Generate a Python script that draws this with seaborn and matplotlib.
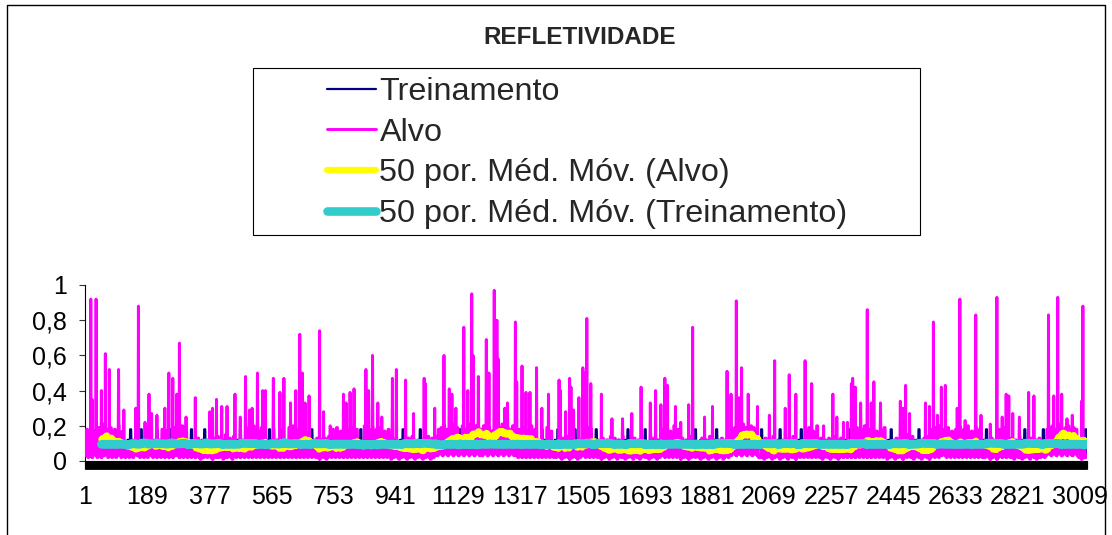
import numpy as np
import pandas as pd
import matplotlib
matplotlib.use("Agg")
import matplotlib.pyplot as plt
import seaborn as sns
from matplotlib.lines import Line2D
from matplotlib.patches import Rectangle

# ---- data -------------------------------------------------------------
N_AMOSTRAS = 3030
BLOCO = 4          # each stored level spans 4 consecutive samples
JANELA_MM = 50     # moving-average period

# Alvo (target) reflectivity, hundredths, one level per block of samples
alvo_blocos = [
    3, 18, 2, 3, 20, 2, 4, 17, 3, 2, 19, 3, 2, 21, 3, 4, 18, 2, 3, 19,
    2, 3, 18, 2, 3, 20, 4, 2, 17, 3, 2, 11, 3, 2, 10, 3, 2, 11, 4, 3,
    11, 2, 3, 10, 2, 3, 19, 2, 4, 20, 3, 2, 11, 3, 2, 10, 3, 2, 18, 3,
    2, 17, 3, 2, 10, 3, 2, 19, 3, 4, 18, 2, 3, 20, 2, 3, 17, 2, 3, 11,
    2, 3, 10, 2, 3, 13, 2, 1, 10, 2, 3, 10, 2, 3, 14, 2, 1, 13, 3, 2,
    14, 2, 3, 12, 1, 2, 15, 2, 3, 13, 2, 1, 14, 3, 2, 10, 3, 2, 11, 3,
    2, 19, 3, 2, 18, 4, 2, 20, 3, 2, 17, 3, 2, 19, 3, 2, 12, 3, 2, 10,
    3, 2, 18, 3, 2, 12, 3, 2, 10, 3, 2, 11, 3, 2, 19, 3, 2, 20, 3, 2,
    18, 3, 2, 19, 3, 2, 17, 3, 2, 11, 3, 2, 10, 3, 2, 13, 2, 1, 12, 3,
    2, 13, 1, 2, 14, 3, 2, 18, 3, 2, 19, 3, 2, 17, 4, 2, 20, 3, 2, 18,
    3, 2, 19, 3, 2, 18, 3, 2, 10, 3, 2, 20, 3, 2, 18, 4, 2, 19, 3, 2,
    18, 3, 2, 19, 3, 2, 17, 3, 2, 18, 3, 1, 13, 2, 3, 12, 2, 1, 10, 2,
    3, 10, 2, 1, 13, 2, 3, 14, 2, 1, 11, 2, 3, 10, 2, 1, 13, 2, 3, 14,
    2, 1, 13, 2, 3, 14, 3, 18, 4, 19, 3, 20, 4, 18, 3, 19, 4, 21, 3, 18,
    4, 19, 3, 10, 4, 20, 3, 18, 4, 19, 3, 21, 4, 18, 3, 20, 4, 19, 3, 18,
    3, 20, 4, 18, 3, 19, 4, 17, 3, 20, 4, 18, 3, 19, 4, 21, 3, 18, 4, 19,
    3, 18, 4, 20, 3, 19, 3, 2, 18, 3, 2, 19, 3, 2, 17, 4, 2, 20, 3, 2,
    18, 3, 2, 12, 3, 2, 11, 3, 2, 19, 3, 2, 17, 3, 2, 10, 2, 3, 10, 2,
    1, 13, 2, 3, 14, 2, 1, 10, 2, 3, 10, 2, 1, 12, 2, 3, 18, 3, 2, 19,
    3, 2, 18, 3, 2, 10, 3, 2, 11, 3, 1, 13, 2, 3, 12, 2, 1, 14, 2, 3,
    13, 2, 1, 12, 3, 2, 14, 2, 1, 10, 2, 3, 10, 2, 1, 13, 3, 2, 12, 1,
    2, 10, 3, 2, 10, 2, 1, 14, 2, 3, 13, 2, 1, 12, 2, 3, 18, 3, 2, 19,
    3, 2, 17, 3, 2, 20, 4, 2, 18, 3, 1, 13, 2, 3, 12, 2, 1, 14, 2, 3,
    10, 2, 3, 10, 2, 1, 13, 2, 3, 12, 2, 1, 14, 2, 3, 10, 2, 1, 10, 2,
    3, 13, 1, 2, 12, 3, 2, 14, 3, 18, 4, 19, 3, 20, 4, 18, 3, 21, 4, 19,
    3, 18, 4, 20, 3, 19, 4, 18, 3, 2, 2, 10, 2, 1, 13, 2, 3, 12, 2, 1,
    14, 2, 3, 10, 2, 1, 10, 2, 3, 13, 2, 1, 12, 3, 2, 14, 2, 1, 10, 3,
    2, 10, 3, 2, 18, 3, 2, 19, 4, 2, 17, 3, 2, 20, 3, 2, 13, 1, 2, 12,
    3, 2, 13, 1, 2, 14, 3, 2, 12, 1, 2, 13, 3, 2, 10, 3, 2, 10, 3, 2,
    17, 3, 2, 19, 3, 2, 18, 4, 2, 20, 3, 2, 18, 3, 2, 19, 3, 2, 17, 4,
    2, 18, 3, 2, 19, 3, 1, 10, 2, 3, 10, 2, 1, 13, 2, 3, 14, 2, 1, 12,
    3, 2, 15, 3, 2, 14, 1, 2, 10, 3, 2, 10, 1, 2, 13, 3, 2, 14, 1, 2,
    18, 3, 2, 19, 3, 2, 20, 3, 4, 18, 3, 2, 19, 3, 2, 17, 4, 2, 18, 3,
    2, 19, 3, 2, 18, 3, 2, 20, 3, 2, 17, 4, 2, 19, 3, 2, 18, 3, 2, 11,
    2, 3, 10, 2, 1, 13, 2, 3, 12, 1, 2, 18, 3, 2, 19, 3, 2, 17, 3, 2,
    13, 2, 1, 12, 3, 2, 14, 2, 1, 10, 2, 3, 10, 2, 1, 13, 3, 2, 12, 1,
    2, 13, 2, 3, 10, 2, 3, 18, 4, 19, 3, 20, 4, 18, 3, 19, 4, 21, 3, 18,
    4, 19, 3, 20, 4, 18, 3, 19, 4, 18, 3, 2, 13, 1, 2, 12, 2, 3,
]

# Treinamento (training) reflectivity, hundredths, same block layout
trein_blocos = [
    8, 11, 7, 12, 8, 12, 7, 11, 8, 11, 7, 12, 8, 11, 7, 12, 8, 12, 7, 11,
    8, 11, 7, 12, 8, 12, 7, 11, 8, 11, 7, 8, 12, 7, 18, 7, 12, 8, 7, 8,
    12, 7, 18, 7, 12, 8, 8, 12, 7, 11, 8, 8, 12, 7, 18, 7, 12, 8, 8, 11,
    7, 8, 12, 7, 18, 7, 12, 8, 8, 12, 7, 11, 8, 12, 7, 11, 8, 8, 12, 7,
    18, 7, 12, 8, 8, 11, 7, 8, 12, 7, 18, 7, 12, 8, 8, 12, 7, 11, 8, 12,
    7, 11, 8, 12, 7, 12, 8, 11, 7, 12, 8, 11, 7, 12, 8, 12, 7, 18, 7, 12,
    8, 8, 12, 7, 11, 8, 12, 7, 11, 8, 12, 7, 11, 8, 11, 7, 8, 12, 7, 18,
    7, 12, 8, 8, 12, 7, 8, 12, 7, 18, 7, 12, 8, 8, 11, 7, 12, 8, 12, 7,
    11, 8, 12, 7, 11, 8, 12, 7, 8, 12, 7, 18, 7, 12, 8, 8, 11, 7, 12, 8,
    11, 7, 12, 8, 11, 7, 12, 8, 12, 7, 11, 8, 12, 7, 11, 8, 12, 7, 11, 8,
    12, 7, 11, 8, 12, 7, 11, 4, 18, 4, 8, 12, 7, 11, 8, 12, 7, 11, 8, 12,
    7, 11, 8, 12, 7, 11, 8, 12, 7, 11, 8, 12, 7, 11, 8, 12, 7, 8, 12, 7,
    18, 7, 12, 8, 8, 11, 7, 12, 8, 12, 8, 12, 7, 18, 7, 12, 8, 8, 11, 7,
    8, 11, 7, 12, 8, 12, 7, 11, 8, 11, 7, 12, 8, 11, 7, 12, 8, 12, 7, 11,
    8, 11, 4, 18, 4, 11, 8, 12, 7, 11, 8, 12, 7, 11, 8, 12, 7, 11, 8, 12,
    8, 11, 7, 12, 8, 12, 7, 11, 8, 11, 7, 12, 8, 11, 7, 12, 8, 12, 7, 11,
    8, 11, 7, 12, 8, 12, 7, 11, 8, 11, 7, 12, 8, 11, 7, 12, 8, 12, 7, 11,
    8, 12, 7, 11, 4, 18, 4, 12, 7, 11, 8, 12, 7, 11, 8, 12, 4, 18, 4, 11,
    8, 12, 7, 11, 8, 12, 7, 8, 12, 7, 18, 7, 12, 8, 8, 11, 7, 12, 8, 12,
    7, 11, 8, 8, 12, 7, 18, 7, 12, 8, 8, 12, 7, 11, 8, 12, 7, 11, 8, 12,
    7, 11, 8, 12, 7, 11, 8, 8, 12, 7, 18, 7, 12, 8, 8, 12, 7, 11, 8, 12,
    7, 11, 4, 18, 4, 11, 8, 12, 7, 11, 8, 12, 7, 11, 8, 12, 7, 11, 8, 12,
    8, 11, 7, 12, 8, 12, 7, 11, 8, 11, 7, 12, 8, 11, 7, 12, 8, 12, 7, 11,
    4, 18, 4, 11, 8, 12, 7, 11, 8, 12, 7, 11, 8, 12, 8, 12, 7, 18, 7, 12,
    8, 8, 12, 7, 11, 8, 12, 7, 11, 8, 12, 7, 11, 8, 12, 7, 11, 8, 12, 7,
    11, 8, 12, 7, 11, 8, 12, 7, 8, 12, 7, 18, 7, 12, 8, 8, 11, 7, 12, 8,
    12, 7, 8, 12, 7, 18, 7, 12, 8, 8, 12, 7, 11, 8, 12, 7, 11, 8, 8, 12,
    7, 18, 7, 12, 8, 8, 12, 7, 11, 8, 12, 7, 11, 8, 12, 7, 11, 8, 12, 7,
    11, 8, 12, 7, 11, 8, 12, 7, 11, 8, 12, 7, 11, 8, 8, 12, 7, 18, 7, 12,
    8, 8, 12, 7, 11, 8, 12, 7, 11, 8, 12, 7, 11, 8, 12, 7, 11, 8, 12, 7,
    11, 8, 12, 7, 11, 8, 8, 12, 7, 18, 7, 12, 8, 8, 11, 7, 12, 8, 12, 7,
    11, 8, 12, 7, 11, 8, 12, 8, 12, 7, 18, 7, 12, 8, 8, 11, 7, 12, 8, 12,
    8, 11, 7, 12, 8, 12, 7, 11, 8, 11, 7, 12, 8, 11, 7, 12, 8, 12, 7, 11,
    8, 11, 7, 12, 8, 12, 7, 11, 8, 11, 7, 12, 8, 11, 7, 12, 8, 12, 8, 12,
    7, 18, 7, 12, 8, 8, 12, 7, 11, 8, 12, 7, 11, 8, 12, 7, 11, 8, 12, 7,
    11, 8, 12, 7, 11, 8, 12, 8, 12, 7, 18, 7, 12, 8, 8, 11, 7, 12, 8, 12,
    7, 8, 12, 7, 18, 7, 12, 8, 8, 12, 7, 11, 8, 12, 7, 11, 8, 12, 7, 11,
    8, 12, 7, 11, 8, 12, 7, 11, 8, 12, 7, 11, 8, 12, 7, 4, 18, 4,
]

# Isolated Alvo peaks: block where they occur and their value
picos_bloco = [
    4, 5, 8, 12, 15, 18, 25, 29, 38, 40, 45, 48, 50, 54, 60, 63, 66, 69, 71, 76,
    83, 94, 96, 99, 103, 107, 113, 117, 121, 124, 126, 130, 134, 136, 142, 147, 150, 155, 159, 162,
    164, 166, 169, 177, 180, 185, 195, 197, 200, 203, 212, 214, 217, 221, 224, 232, 235, 242, 248, 256,
    257, 264, 271, 275, 277, 280, 286, 289, 292, 293, 297, 303, 305, 309, 311, 312, 317, 319, 325, 326,
    330, 333, 336, 341, 345, 350, 358, 359, 363, 366, 367, 369, 373, 376, 377, 379, 382, 390, 398, 406,
    413, 420, 427, 431, 435, 438, 440, 446, 450, 456, 459, 468, 474, 485, 488, 492, 494, 496, 501, 508,
    517, 521, 529, 532, 537, 544, 549, 558, 565, 568, 573, 576, 579, 580, 582, 586, 591, 594, 596, 601,
    616, 618, 620, 623, 635, 638, 641, 644, 647, 650, 659, 661, 665, 673, 677, 684, 689, 693, 696, 698,
    701, 706, 713, 717, 728, 732, 735, 738, 742, 746, 753, 754,
]
picos_valor = [
    0.92, 0.35, 0.92, 0.40, 0.61, 0.52, 0.52, 0.29, 0.30, 0.88, 0.22, 0.38, 0.27, 0.26, 0.30, 0.50, 0.47, 0.38, 0.67, 0.25,
    0.36, 0.28, 0.30, 0.35, 0.31, 0.31, 0.38, 0.25, 0.48, 0.29, 0.30, 0.50, 0.40, 0.40, 0.47, 0.39, 0.47, 0.33, 0.40, 0.72,
    0.50, 0.33, 0.37, 0.74, 0.28, 0.20, 0.38, 0.33, 0.39, 0.41, 0.52, 0.40, 0.60, 0.33, 0.25, 0.47, 0.52, 0.46, 0.27, 0.47,
    0.44, 0.30, 0.60, 0.41, 0.38, 0.30, 0.76, 0.40, 0.95, 0.60, 0.48, 0.69, 0.50, 0.97, 0.80, 0.58, 0.30, 0.33, 0.79, 0.45,
    0.54, 0.39, 0.39, 0.53, 0.30, 0.38, 0.46, 0.40, 0.28, 0.47, 0.42, 0.29, 0.36, 0.53, 0.50, 0.81, 0.44, 0.38, 0.24, 0.24,
    0.27, 0.42, 0.33, 0.40, 0.32, 0.47, 0.43, 0.31, 0.22, 0.32, 0.76, 0.25, 0.31, 0.51, 0.38, 0.91, 0.36, 0.53, 0.38, 0.31,
    0.26, 0.57, 0.30, 0.49, 0.38, 0.57, 0.44, 0.20, 0.38, 0.25, 0.22, 0.22, 0.44, 0.47, 0.42, 0.33, 0.86, 0.33, 0.45, 0.33,
    0.34, 0.30, 0.43, 0.27, 0.33, 0.31, 0.79, 0.26, 0.42, 0.43, 0.30, 0.92, 0.23, 0.83, 0.26, 0.21, 0.93, 0.25, 0.38, 0.37,
    0.27, 0.25, 0.39, 0.37, 0.83, 0.37, 0.93, 0.38, 0.24, 0.26, 0.34, 0.88,
]

x_rotulos = list(range(1, 3010, 188))
y_marcas = [0, 0.2, 0.4, 0.6, 0.8, 1.0]

# ---- series -------------------------------------------------------------
amostra = np.arange(1, N_AMOSTRAS + 1)
alvo = np.repeat(np.array(alvo_blocos) / 100.0, BLOCO)[:N_AMOSTRAS]
trein = np.repeat(np.array(trein_blocos) / 100.0, BLOCO)[:N_AMOSTRAS]
for b, v in zip(picos_bloco, picos_valor):
    alvo[b * BLOCO + 1] = v

df = pd.DataFrame({"amostra": amostra, "Treinamento": trein, "Alvo": alvo})
df["mm_alvo"] = df["Alvo"].rolling(JANELA_MM).mean()
df["mm_trein"] = df["Treinamento"].rolling(JANELA_MM).mean()

# ---- figure -------------------------------------------------------------
sns.set_theme(style="white")
plt.rcParams["font.family"] = ["Liberation Sans", "DejaVu Sans"]
plt.rcParams["path.simplify"] = False

fig = plt.figure(figsize=(11.12, 5.35), dpi=100)
ax = fig.add_axes([0.07644, 0.13832, 0.90108, 0.32897])

comum = dict(ax=ax, x="amostra", estimator=None, errorbar=None)
sns.lineplot(data=df, y="Treinamento", color="#000080", lw=1.6,
             label="Treinamento", zorder=2, **comum)
sns.lineplot(data=df, y="Alvo", color="#FF00FF", lw=2.1,
             label="Alvo", zorder=3, **comum)
sns.lineplot(data=df, y="mm_alvo", color="#FFFF00", lw=4.5,
             solid_capstyle="round", label="50 por. Méd. Móv. (Alvo)",
             zorder=4, **comum)
sns.lineplot(data=df, y="mm_trein", color="#33CCCC", lw=6.2,
             solid_capstyle="round", label="50 por. Méd. Móv. (Treinamento)",
             zorder=5, **comum)

ax.set_xlim(0.5, N_AMOSTRAS + 0.5)
ax.set_ylim(0, 1)
ax.set_xlabel("")
ax.set_ylabel("")

ax.set_xticks(x_rotulos)
ax.set_xticklabels([str(v) for v in x_rotulos])
ax.set_xticks(amostra, minor=True)
ax.set_yticks(y_marcas)
ax.set_yticklabels([f"{v:g}".replace(".", ",") for v in y_marcas])

ax.tick_params(axis="x", which="both", bottom=True, direction="out",
               length=5.5, width=0.8, color="black")
ax.tick_params(axis="x", which="major", labelsize=18, pad=12, labelcolor="black")
ax.tick_params(axis="y", which="major", left=True, direction="out",
               length=4.3, width=0.8, color="#333333", labelsize=18, pad=9,
               labelcolor="black")

sns.despine(ax=ax)
for lado in ("left", "bottom"):
    ax.spines[lado].set_color("black")
    ax.spines[lado].set_linewidth(0.8)

# legend
handles, labels = ax.get_legend_handles_labels()
ax.get_legend().remove()
fig.legend(handles, labels, loc="upper left", bbox_to_anchor=(0.2941, 0.856),
           frameon=False, fontsize=23.3, handlelength=1.52, handletextpad=0.1,
           labelspacing=0.33, borderpad=0, borderaxespad=0)
fig.add_artist(Rectangle((0.2275, 0.5607), 0.5998, 0.3122,
                         transform=fig.transFigure, fill=False,
                         edgecolor="black", linewidth=0.8))

# chart frame and title
fig.add_artist(Line2D([0.0067, 0.0067, 0.9937, 0.9937], [0.0, 0.9907, 0.9907, 0.0],
                      transform=fig.transFigure, color="black", linewidth=1.0))
fig.text(580 / 1112, 1 - 38 / 535, "REFLETIVIDADE", ha="center", va="center",
         fontsize=17.5, fontweight="bold")

fig.savefig("out.png", dpi=100)
